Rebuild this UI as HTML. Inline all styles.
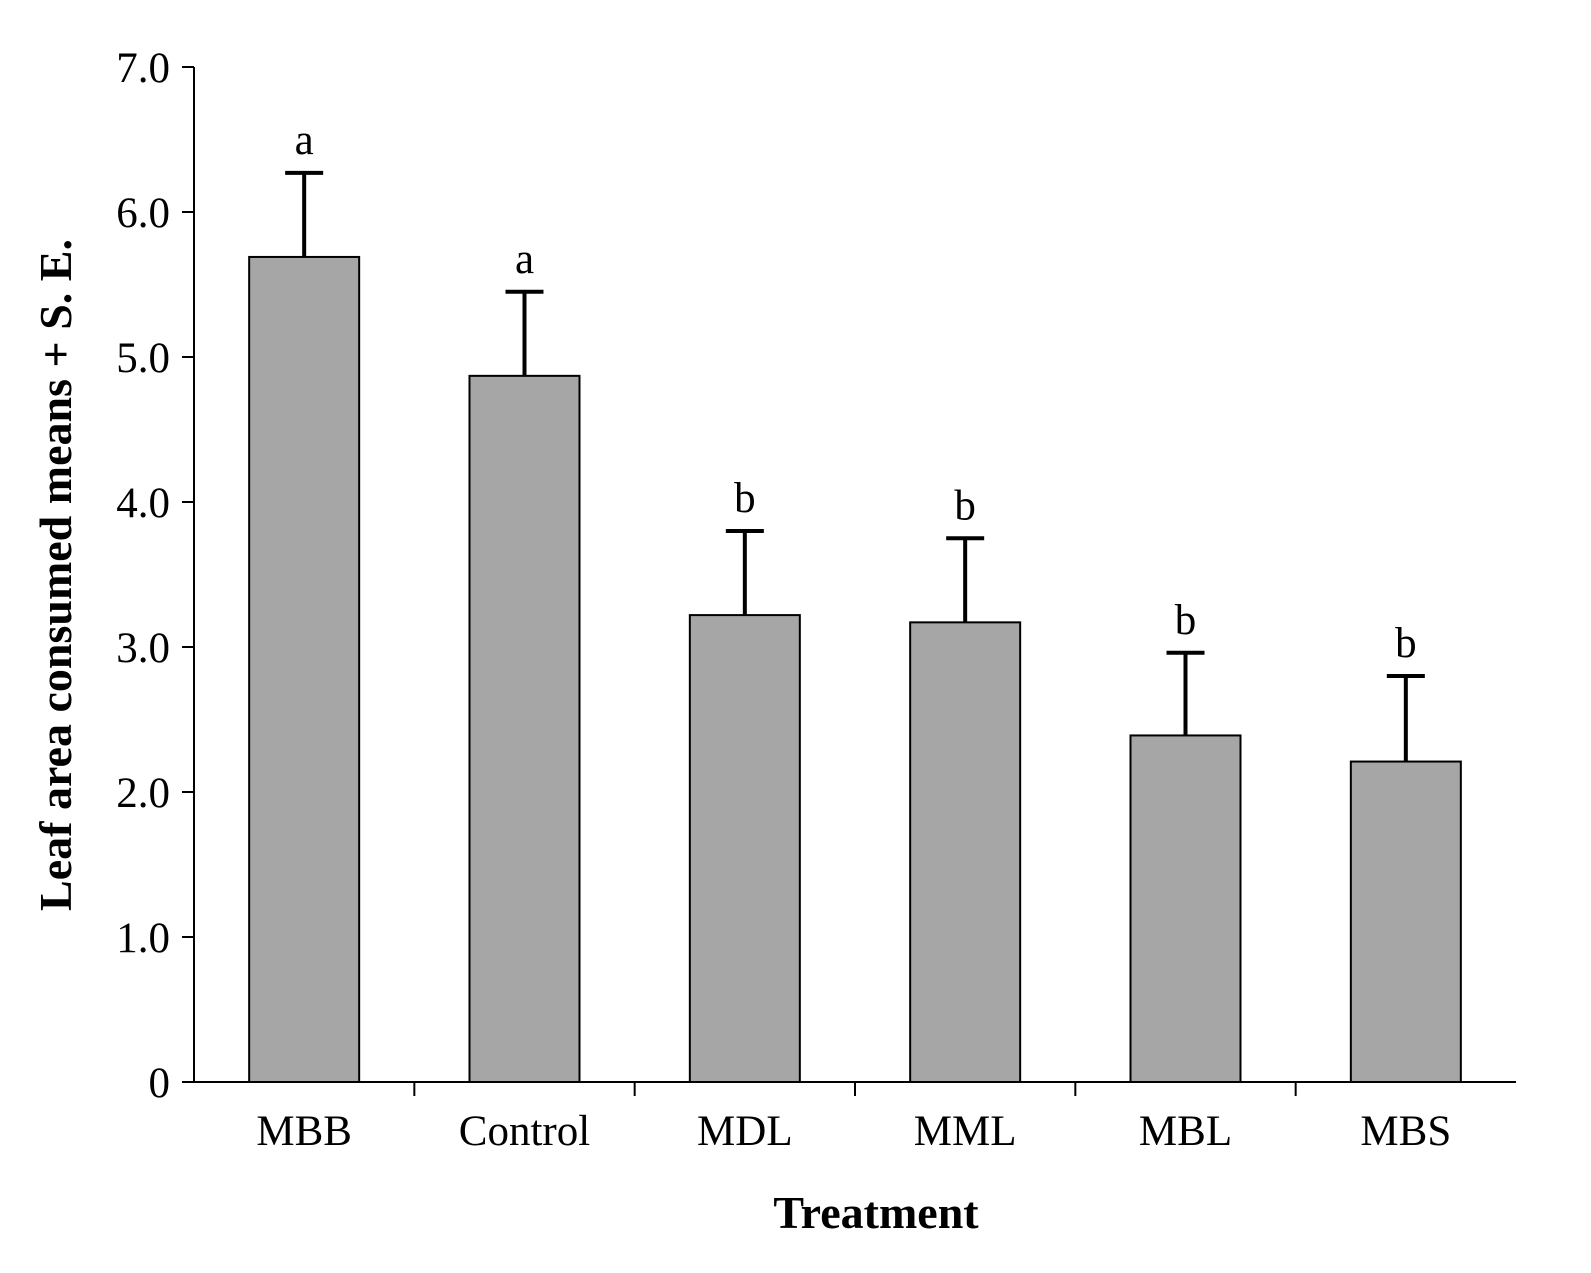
<!DOCTYPE html>
<html><head><meta charset="utf-8"><style>
html,body{margin:0;padding:0;background:#fff;}
svg text{font-family:"Liberation Serif",serif;fill:#000;}
</style></head><body>
<svg id="chart" width="1591" height="1268" viewBox="0 0 1591 1268" xmlns="http://www.w3.org/2000/svg">
<g id="axes"></g>
<g id="bars"></g>
<text x="0" y="0" transform="translate(71,575) rotate(-90)" text-anchor="middle" font-size="46" font-weight="bold">Leaf area consumed means + S. E.</text>
<text x="876" y="1228" text-anchor="middle" font-size="46" font-weight="bold">Treatment</text>
</svg>
<script>
const categories = ["MBB","Control","MDL","MML","MBL","MBS"];
const means = [5.69,4.87,3.22,3.17,2.39,2.21];
const errors = [0.58,0.58,0.58,0.58,0.57,0.59];
const letters = ["a","a","b","b","b","b"];
const yTicks = [0,1,2,3,4,5,6,7];
const yTickLabels = ["0","1.0","2.0","3.0","4.0","5.0","6.0","7.0"];

const NS="http://www.w3.org/2000/svg";
const x0=194,x1=1516,yBase=1082,yTop=67,yMax=7;
const bw=(x1-x0)/categories.length;
const yS=v=>yBase-(v/yMax)*(yBase-yTop);
const xC=i=>x0+bw*(i+0.5);
function mk(t,a,p){const e=document.createElementNS(NS,t);for(const k in a)e.setAttribute(k,a[k]);p.appendChild(e);return e;}
const axes=document.getElementById('axes'),bars=document.getElementById('bars');

let yl=mk('line',{x1:x0,y1:yTop,x2:x0,y2:yBase,stroke:'#000','stroke-width':2},axes);


let xl=mk('line',{x1:x0-12,y1:yBase,x2:x1,y2:yBase,stroke:'#000','stroke-width':2},axes);



yTicks.forEach((v,i)=>{
  const y=yS(v);
  const t=mk('line',{x1:x0-12,y1:y,x2:x0,y2:y,stroke:'#000','stroke-width':2},axes);
  
  
  const l=mk('text',{x:170,y:y+15,'text-anchor':'end','font-size':43},axes);
  l.textContent=yTickLabels[i];
  
  
});
for(let i=1;i<categories.length;i++){
  const x=x0+bw*i;
  const t=mk('line',{x1:x,y1:yBase,x2:x,y2:yBase+14,stroke:'#000','stroke-width':2},axes);
  
  
}
categories.forEach((c,i)=>{
  const cx=xC(i),w=110,top=yS(means[i]),et=yS(means[i]+errors[i]);
  const r=mk('rect',{x:cx-w/2,y:top,width:w,height:yBase-top,fill:'#a6a6a6',stroke:'#000','stroke-width':2},bars);
  
  
  const e=mk('path',{d:`M${cx},${top} V${et} M${cx-19},${et} H${cx+19}`,stroke:'#000','stroke-width':4,fill:'none'},bars);
  
  
  const s=mk('text',{x:cx,y:et-19,'text-anchor':'middle','font-size':43},bars);
  s.textContent=letters[i];
  
  
  const l=mk('text',{x:cx,y:1145,'text-anchor':'middle','font-size':43},axes);
  l.textContent=c;
  
  
});
</script>
</body></html>
